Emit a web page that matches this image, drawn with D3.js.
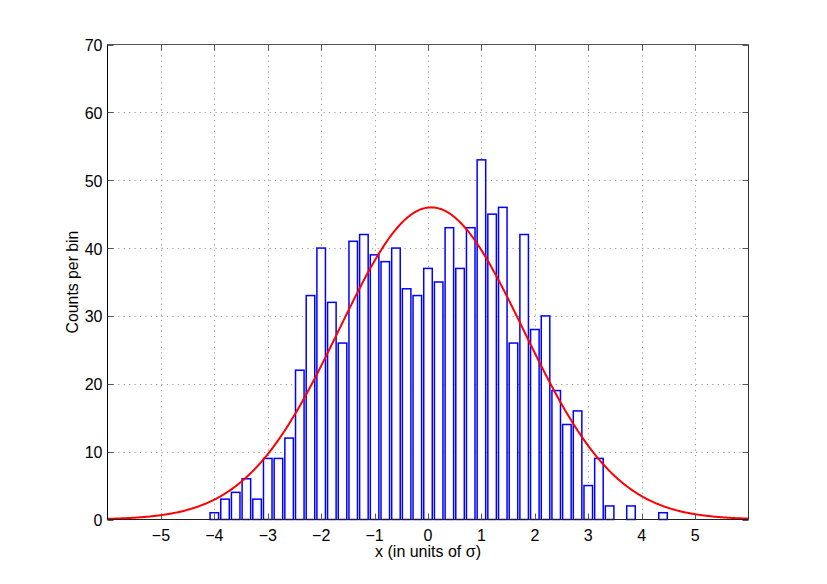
<!DOCTYPE html>
<html>
<head>
<meta charset="utf-8">
<script src="https://cdn.jsdelivr.net/npm/d3@7"></script>
<style>
  body { margin: 0; background: #fff; }
  svg text { font-family: "Liberation Sans", Arial, sans-serif; fill: #000; }
</style>
</head>
<body>
<div id="chart"></div>
<script>
// histogram bin centres (units of sigma) and counts per bin
const binCenters = [-4.0, -3.8, -3.6, -3.4, -3.2, -3.0, -2.8, -2.6, -2.4, -2.2,
                    -2.0, -1.8, -1.6, -1.4, -1.2, -1.0, -0.8, -0.6, -0.4, -0.2,
                     0.0,  0.2,  0.4,  0.6,  0.8,  1.0,  1.2,  1.4,  1.6,  1.8,
                     2.0,  2.2,  2.4,  2.6,  2.8,  3.0,  3.2,  3.4,  3.6,  3.8,
                     4.0,  4.2,  4.4];
const counts = [1, 3, 4, 6, 3, 9, 9, 12, 22, 33,
                40, 32, 26, 41, 42, 39, 38, 40, 34, 33,
                37, 35, 43, 37, 43, 53, 45, 46, 26, 42,
                28, 30, 19, 14, 16, 5, 9, 2, 0, 2,
                0, 0, 1];
const binWidth = 0.2;

// gaussian fit drawn over the histogram
const fitAmplitude = 46;
const fitMean = 0.06;
const fitSigma = 1.73;

const xTicks = [-5, -4, -3, -2, -1, 0, 1, 2, 3, 4, 5];
const yTicks = [0, 10, 20, 30, 40, 50, 60, 70];

const width = 827, height = 584;
const pLeft = 107.5, pRight = 748.5, pTop = 44.5, pBottom = 519.5;

const svg = d3.select("#chart").append("svg")
  .attr("width", width)
  .attr("height", height);

const x = d3.scaleLinear().domain([-6, 6]).range([pLeft, pRight]);
const y = d3.scaleLinear().domain([0, 70]).range([pBottom, pTop]);

// dotted grid
svg.append("g").selectAll("line")
  .data(xTicks)
  .join("line")
    .attr("x1", d => Math.round(x(d)) + 0.5).attr("x2", d => Math.round(x(d)) + 0.5)
    .attr("y1", pTop).attr("y2", pBottom)
    .attr("stroke", "#999").attr("stroke-width", 1)
    .attr("stroke-dasharray", "1.2,4.2");
svg.append("g").selectAll("line")
  .data(yTicks.filter(d => d > 0 && d < 70))
  .join("line")
    .attr("x1", pLeft).attr("x2", pRight)
    .attr("y1", d => Math.round(y(d)) + 0.5).attr("y2", d => Math.round(y(d)) + 0.5)
    .attr("stroke", "#999").attr("stroke-width", 1)
    .attr("stroke-dasharray", "1.2,4.2");

// bars (width 0.8 of a bin, like matlab's bar)
const barW = x(binWidth * 0.8) - x(0);
svg.append("g").selectAll("rect")
  .data(binCenters.map((c, i) => ({c: c, n: counts[i]})).filter(d => d.n > 0))
  .join("rect")
    .attr("x", d => x(d.c) - barW / 2)
    .attr("y", d => y(d.n))
    .attr("width", barW)
    .attr("height", d => y(0) - y(d.n))
    .attr("fill", "#fff")
    .attr("stroke", "#0000ff")
    .attr("stroke-width", 1.5);

// fitted curve
const xs = d3.range(-6, 6.001, 0.02);
const line = d3.line()
  .x(d => x(d))
  .y(d => y(fitAmplitude * Math.exp(-((d - fitMean) ** 2) / (2 * fitSigma * fitSigma))));
svg.append("path")
  .datum(xs)
  .attr("d", line)
  .attr("fill", "none")
  .attr("stroke", "#ff0000")
  .attr("stroke-width", 2);

// axes box
const box = svg.append("g");
box.append("line").attr("x1", pLeft).attr("x2", pRight).attr("y1", pTop).attr("y2", pTop)
  .attr("stroke", "#555").attr("stroke-width", 1);
box.append("line").attr("x1", pRight).attr("x2", pRight).attr("y1", pTop).attr("y2", pBottom)
  .attr("stroke", "#333").attr("stroke-width", 1);
box.append("line").attr("x1", pLeft).attr("x2", pLeft).attr("y1", pTop).attr("y2", pBottom)
  .attr("stroke", "#000").attr("stroke-width", 1);
box.append("line").attr("x1", pLeft).attr("x2", pRight).attr("y1", pBottom).attr("y2", pBottom)
  .attr("stroke", "#222").attr("stroke-width", 1);

// inward ticks on all four sides
const tl = 6;
xTicks.forEach(t => {
  const px = Math.round(x(t)) + 0.5;
  box.append("line").attr("x1", px).attr("x2", px).attr("y1", pBottom).attr("y2", pBottom - tl).attr("stroke", "#555");
  box.append("line").attr("x1", px).attr("x2", px).attr("y1", pTop).attr("y2", pTop + tl).attr("stroke", "#555");
});
yTicks.forEach(t => {
  const py = Math.round(y(t)) + 0.5;
  box.append("line").attr("x1", pLeft).attr("x2", pLeft + tl).attr("y1", py).attr("y2", py).attr("stroke", "#555");
  box.append("line").attr("x1", pRight).attr("x2", pRight - tl).attr("y1", py).attr("y2", py).attr("stroke", "#555");
});

// tick labels
const fmt = d => String(d).replace("-", "\u2212");
svg.append("g").selectAll("text")
  .data(xTicks)
  .join("text")
    .attr("x", d => x(d))
    .attr("y", 541)
    .attr("text-anchor", "middle")
    .attr("font-size", 16)
    .text(fmt);
svg.append("g").selectAll("text")
  .data(yTicks)
  .join("text")
    .attr("x", pLeft - 5)
    .attr("y", d => y(d) + 6.5)
    .attr("text-anchor", "end")
    .attr("font-size", 16)
    .text(fmt);

// axis titles
svg.append("text")
  .attr("x", x(0))
  .attr("y", 557)
  .attr("text-anchor", "middle")
  .attr("font-size", 16)
  .text("x (in units of \u03c3)");
svg.append("text")
  .attr("transform", `translate(78, ${(pTop + pBottom) / 2}) rotate(-90)`)
  .attr("text-anchor", "middle")
  .attr("font-size", 15.8)
  .text("Counts per bin");
</script>
</body>
</html>
